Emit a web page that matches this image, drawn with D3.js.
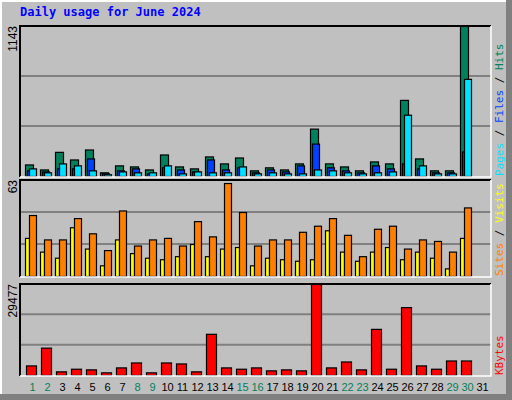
<!DOCTYPE html>
<html>
<head>
<meta charset="UTF-8">
<script src="https://d3js.org/d3.v7.min.js"></script>
<style>
  body { margin: 0; }
  text { font-family: "DejaVu Sans Mono", monospace; font-size: 11px; }
</style>
</head>
<body>
<script>
const days = d3.range(1, 32);
const weekends = [1, 2, 8, 9, 15, 16, 22, 23, 29, 30];
const hits  = [88,50,184,126,202,28,81,73,50,164,73,58,149,96,141,43,66,50,96,361,96,73,43,111,96,580,134,43,43,1143,0];
const files = [43,35,58,58,134,20,43,58,20,66,50,35,126,50,66,28,50,35,81,247,66,43,28,81,58,96,58,28,28,187,0];
const pages = [58,28,96,81,43,13,35,28,28,81,20,35,28,28,73,20,28,20,20,50,43,28,20,28,35,467,81,20,20,740,0];
const sites  = [25,16,12,32,18,7,24,15,12,11,13,21,13,18,19,7,12,11,10,11,30,16,10,16,19,11,16,12,5,25,0];
const visits = [40,24,24,38,28,17,43,20,24,25,20,36,26,61,42,20,24,24,29,33,38,27,13,31,33,18,24,23,16,45,0];
const kbytes = [3100,8860,1180,2030,1820,860,2460,4060,860,4060,3740,1180,13340,2460,2030,2460,1500,1820,1500,29477,2460,4380,1820,14940,2030,21980,3100,2030,4700,4700,0];

const W = 512, H = 400, L = 20, R = 491;
const svg = d3.select("body").append("svg").attr("width", W).attr("height", H);

// outer window
svg.append("rect").attr("width", W).attr("height", H).attr("fill", "#808080");
svg.append("rect").attr("width", W - 6).attr("height", H - 6).attr("fill", "#ffffff");
svg.append("rect").attr("x", 2).attr("y", 2).attr("width", W - 8).attr("height", H - 8).attr("fill", "#c0c0c0");

svg.append("text").attr("x", 20).attr("y", 16).attr("fill", "#0000ff")
  .style("font-weight", "bold").style("font-size", "12px").text("Daily usage for June 2024");

const x = d3.scaleBand().domain(days).range([L + 5, L + 5 + 15 * 31]);

function panel(top, bottom, max, maxLabel, series, legend) {
  const y = d3.scaleLinear().domain([0, max]).range([bottom, top]);
  const g = svg.append("g");
  g.append("rect").attr("x", L).attr("y", top).attr("width", R - L).attr("height", bottom - top + 1).attr("fill", "#c0c0c0");
  [1 / 3, 2 / 3].forEach(f => g.append("line").attr("x1", L).attr("x2", R)
    .attr("y1", y(max * f)).attr("y2", y(max * f)).attr("stroke", "#808080").attr("stroke-width", 2));
  series.forEach(s => {
    g.selectAll(null).data(s.data.map((v, i) => ({ v, d: days[i] })).filter(o => o.v > 0)).join("rect")
      .attr("x", o => x(o.d) + s.dx + 0.5).attr("width", s.w)
      .attr("y", o => y(o.v) + 0.5).attr("height", o => bottom - y(o.v))
      .attr("fill", s.color).attr("stroke", "#000").attr("stroke-width", 1.2);
  });
  g.append("path").attr("d", `M${L},${bottom + 1}V${top}H${R}`).attr("fill", "none").attr("stroke", "#000").attr("stroke-width", 2);
  g.append("path").attr("d", `M${R},${top}V${bottom + 1}H${L}`).attr("fill", "none").attr("stroke", "#fff").attr("stroke-width", 1.5);
  g.append("text").attr("transform", `translate(17,${top}) rotate(-90)`).attr("text-anchor", "end")
    .style("font-family", "'Liberation Sans', sans-serif").style("font-size", "12px").text(maxLabel);
  const t = g.append("text").attr("transform", `translate(503,${bottom}) rotate(-90)`);
  legend.forEach((l, i) => {
    if (i) t.append("tspan").attr("fill", "#000").text(" / ");
    t.append("tspan").attr("fill", l.color).text(l.text);
  });
}

panel(26, 176, 1143, "1143", [
  { data: hits, color: "#00805c", dx: 0, w: 8 },
  { data: files, color: "#0040ff", dx: 2, w: 7 },
  { data: pages, color: "#00e0ff", dx: 4, w: 7 }
], [{ text: "Pages", color: "#00e0ff" }, { text: "Files", color: "#0040ff" }, { text: "Hits", color: "#00805c" }]);

panel(180, 276, 63, "63", [
  { data: sites, color: "#ffff00", dx: 0, w: 4 },
  { data: visits, color: "#ff8000", dx: 4, w: 7 }
], [{ text: "Sites", color: "#ff8000" }, { text: "Visits", color: "#ffff00" }]);

panel(284, 375, 29477, "29477", [
  { data: kbytes, color: "#ff0000", dx: 1, w: 10 }
], [{ text: "KBytes", color: "#ff0000" }]);

svg.selectAll(".day").data(days).join("text")
  .attr("x", d => x(d) + 7.5).attr("y", 391).attr("text-anchor", "middle")
  .style("font-family", "'Liberation Sans', sans-serif").style("font-size", "11px")
  .attr("fill", d => weekends.includes(d) ? "#00805c" : "#000").text(d => d);
</script>
</body>
</html>
